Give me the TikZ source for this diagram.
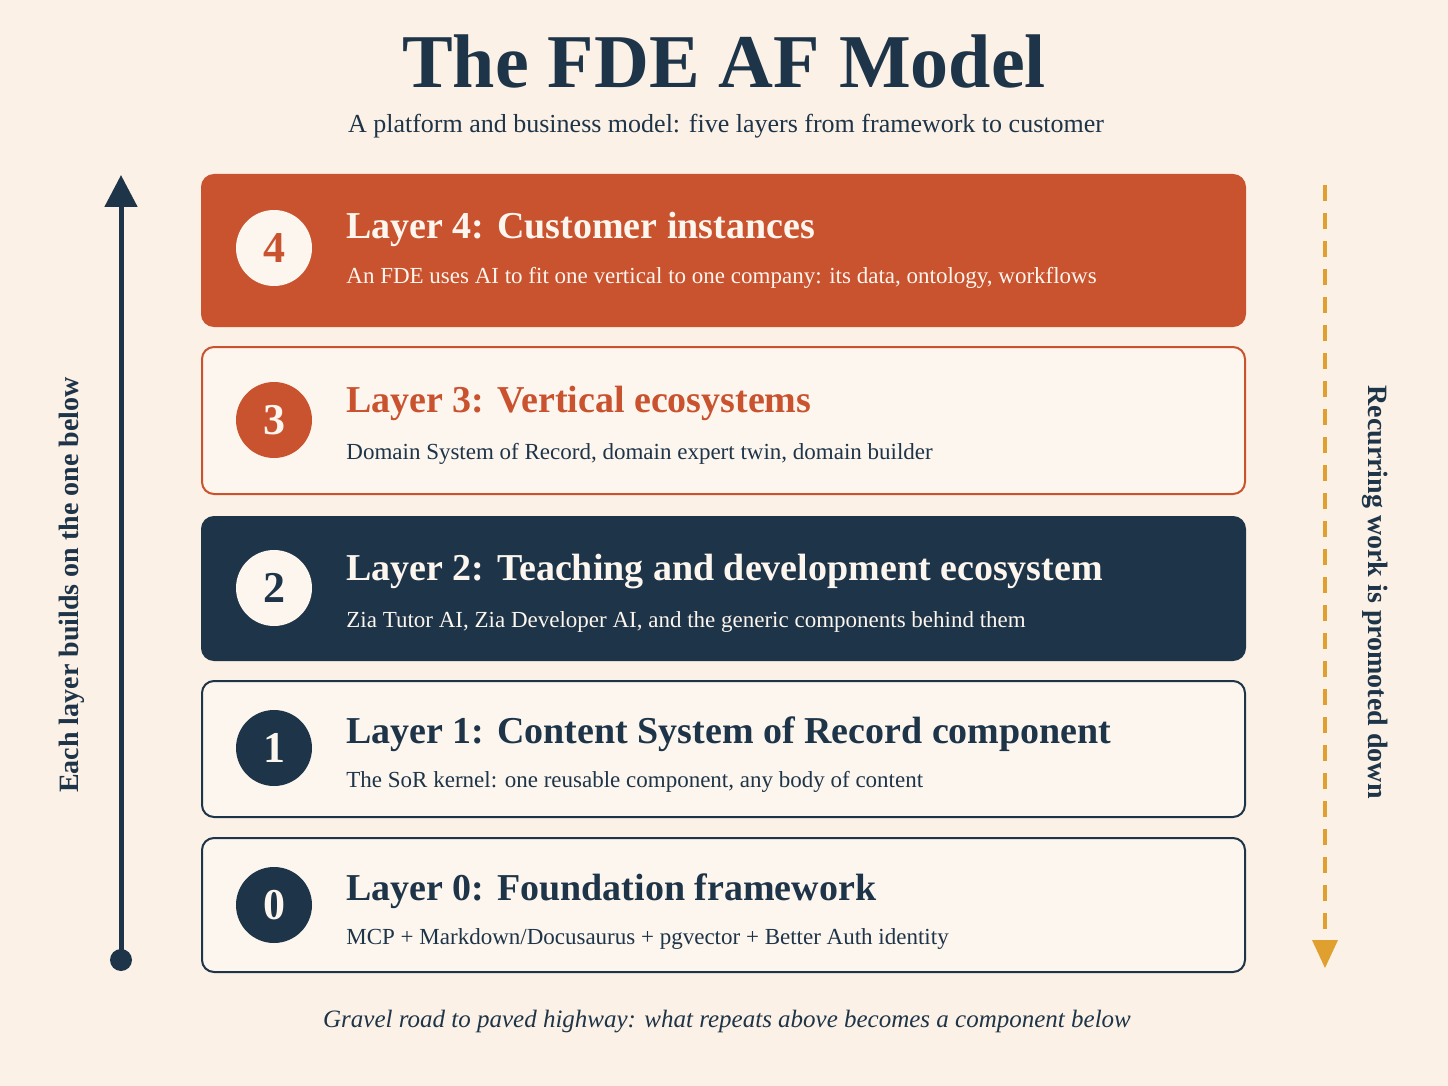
\documentclass[tikz,border=0pt]{standalone}
\usepackage{fontspec}
\setmainfont{Liberation Serif}
\usetikzlibrary{arrows.meta}
\definecolor{bg}{HTML}{FBF1E6}
\definecolor{navy}{HTML}{1E3448}
\definecolor{rust}{HTML}{C9522F}
\definecolor{gold}{HTML}{E0A030}
\definecolor{paper}{HTML}{FDF6EE}
\begin{document}
\begin{tikzpicture}[x=0.5pt,y=-0.5pt,
  box/.style={rounded corners=6pt,line width=1pt},
  num/.style={circle,minimum size=38pt,inner sep=0pt,font=\bfseries\fontsize{22}{22}\selectfont},
  ttl/.style={anchor=base west,inner sep=0pt,font=\bfseries\fontsize{19}{19}\selectfont},
  sub/.style={anchor=base west,inner sep=0pt,font=\fontsize{11.5}{12}\selectfont}]
\fill[bg] (0,0) rectangle (1448,1086);
\useasboundingbox (0,0) rectangle (1448,1086);
\node (title) at (724,62) {\bfseries\fontsize{38}{38}\selectfont\color{navy}The FDE AF Model};
\node (subt) at (726,126) {\fontsize{13}{13}\selectfont\color{navy}A platform and business model: five layers from framework to customer};
% layer 4
\draw[box,fill=rust,draw=rust] (202,175) rectangle (1245,326);
\node[num,fill=paper,text=rust] (n4) at (274,248) {4};
\node[ttl,text=paper] (t4) at (346,239) {Layer 4: Customer instances};
\node[sub,text=paper] (s4) at (346,284) {An FDE uses AI to fit one vertical to one company: its data, ontology, workflows};
% layer 3
\draw[box,fill=paper,draw=rust] (202,347) rectangle (1245,494);
\node[num,fill=rust,text=paper] (n3) at (274,420) {3};
\node[ttl,text=rust] (t3) at (346,412) {Layer 3: Vertical ecosystems};
\node[sub,text=navy] (s3) at (346,459) {Domain System of Record, domain expert twin, domain builder};
% layer 2
\draw[box,fill=navy,draw=navy] (202,517) rectangle (1245,660);
\node[num,fill=paper,text=navy] (n2) at (274,588) {2};
\node[ttl,text=paper] (t2) at (346,580) {Layer 2: Teaching and development ecosystem};
\node[sub,text=paper] (s2) at (346,627) {Zia Tutor AI, Zia Developer AI, and the generic components behind them};
% layer 1
\draw[box,fill=paper,draw=navy] (202,681) rectangle (1245,817);
\node[num,fill=navy,text=paper] (n1) at (274,748) {1};
\node[ttl,text=navy] (t1) at (346,743) {Layer 1: Content System of Record component};
\node[sub,text=navy] (s1) at (346,787) {The SoR kernel: one reusable component, any body of content};
% layer 0
\draw[box,fill=paper,draw=navy] (202,838) rectangle (1245,972);
\node[num,fill=navy,text=paper] (n0) at (274,905) {0};
\node[ttl,text=navy] (t0) at (346,900) {Layer 0: Foundation framework};
\node[sub,text=navy] (s0) at (346,944) {MCP + Markdown/Docusaurus + pgvector + Better Auth identity};
% arrows
\coordinate (lb) at (121,960);
\coordinate (lt) at (121,175);
\fill[navy] (lb) circle (5.5pt);
\draw[navy,line width=2.5pt,-{Triangle[length=16pt,width=16pt]}] (lb) -- (lt);
\node[rotate=90,text=navy,font=\bfseries\fontsize{14}{14}\selectfont] (ll) at (72,585) {Each layer builds on the one below};
\coordinate (rt) at (1325,185);
\coordinate (rb) at (1325,968);
\draw[gold,line width=2pt,dash pattern=on 8pt off 6pt] (rt) -- (1325,945);
\fill[gold] (1312,940) -- (1338,940) -- (rb) -- cycle;
\node[rotate=-90,text=navy,font=\bfseries\fontsize{14}{14}\selectfont] (rl) at (1375,592) {Recurring work is promoted down};
\node[text=navy,font=\itshape\fontsize{12.5}{13}\selectfont] (foot) at (727,1022) {Gravel road to paved highway: what repeats above becomes a component below};
\end{tikzpicture}
\end{document}
